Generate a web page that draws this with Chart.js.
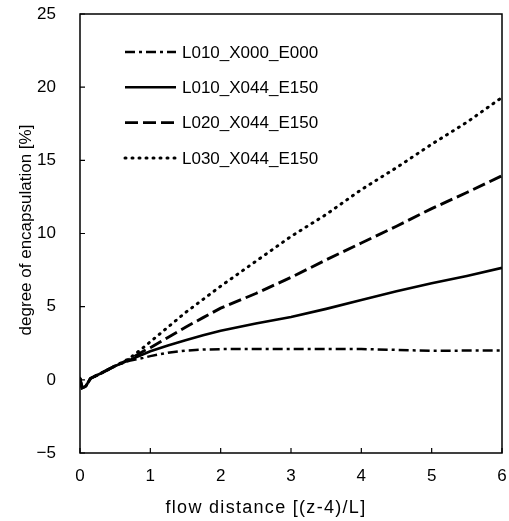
<!DOCTYPE html>
<html>
<head>
<meta charset="utf-8">
<script src="https://cdn.jsdelivr.net/npm/chart.js@4/dist/chart.umd.min.js"></script>
<style>
html,body{margin:0;padding:0;background:#fff;}
#wrap{width:509px;height:521px;position:relative;}
</style>
</head>
<body>
<div id="wrap"><canvas id="c" width="509" height="521"></canvas></div>
<script>
// ---- data ----
const xVals = [0, 0.03, 0.08, 0.15, 0.3, 0.5, 0.7, 0.9, 1.0, 1.25, 1.5, 1.75, 2, 2.5, 3, 3.5, 4, 4.5, 5, 5.5, 6];
const seriesLabels = ['L010_X000_E000', 'L010_X044_E150', 'L020_X044_E150', 'L030_X044_E150'];
const s1 = [0.1, -0.55, -0.45, 0.1, 0.45, 0.95, 1.3, 1.5, 1.62, 1.85, 2.0, 2.07, 2.1, 2.1, 2.1, 2.1, 2.1, 2.05, 1.98, 2.0, 2.0];
const s2 = [0.1, -0.55, -0.45, 0.1, 0.45, 0.95, 1.35, 1.75, 1.95, 2.35, 2.7, 3.05, 3.35, 3.85, 4.3, 4.85, 5.45, 6.05, 6.6, 7.1, 7.65];
const s3 = [0.1, -0.55, -0.45, 0.1, 0.45, 0.95, 1.4, 1.95, 2.2, 2.9, 3.6, 4.25, 4.9, 5.9, 7.0, 8.2, 9.35, 10.5, 11.7, 12.8, 13.95];
const s4 = [0.1, -0.55, -0.45, 0.1, 0.45, 0.95, 1.45, 2.2, 2.6, 3.6, 4.6, 5.5, 6.4, 8.1, 9.8, 11.3, 13.0, 14.5, 16.1, 17.6, 19.3];
const xTicks = [0, 1, 2, 3, 4, 5, 6];
const yTicks = [-5, 0, 5, 10, 15, 20, 25];
const xTitle = 'flow distance [(z-4)/L]';
const yTitle = 'degree of encapsulation [%]';

const pts = arr => arr.map((v, i) => ({x: xVals[i], y: v}));
const FONT = '"Liberation Sans", Arial, Helvetica, sans-serif';

const styles = [
  {borderDash: [10, 4, 3, 4], borderWidth: 2.5, borderCapStyle: 'butt'},
  {borderDash: [], borderWidth: 2.6, borderCapStyle: 'butt'},
  {borderDash: [13, 5], borderWidth: 2.9, borderCapStyle: 'butt'},
  {borderDash: [1, 6], borderWidth: 3, borderCapStyle: 'round'}
];
const allSeries = [s1, s2, s3, s4];

const datasets = allSeries.map((s, i) => Object.assign({
  label: seriesLabels[i],
  data: pts(s),
  borderColor: '#000',
  backgroundColor: '#000',
  pointRadius: 0,
  tension: 0,
  fill: false
}, styles[i]));

const decor = {
  id: 'decor',
  afterDraw(chart) {
    const ctx = chart.ctx;
    const a = chart.chartArea;
    const xs = chart.scales.x, ys = chart.scales.y;
    ctx.save();
    ctx.strokeStyle = '#000';
    ctx.lineWidth = 1.5;
    ctx.setLineDash([]);
    ctx.strokeRect(a.left, a.top, a.right - a.left, a.bottom - a.top);
    ctx.lineWidth = 1.2;
    ctx.beginPath();
    xTicks.forEach(t => {
      const px = xs.getPixelForValue(t);
      ctx.moveTo(px, a.bottom); ctx.lineTo(px, a.bottom - 5);
    });
    yTicks.forEach(t => {
      const py = ys.getPixelForValue(t);
      ctx.moveTo(a.left, py); ctx.lineTo(a.left + 5, py);
    });
    ctx.stroke();
    ctx.fillStyle = '#000';
    ctx.textAlign = 'center';
    ctx.textBaseline = 'middle';
    ctx.font = '18px ' + FONT;
    try { ctx.letterSpacing = '1.3px'; } catch (e) {}
    ctx.fillText(xTitle, 266, 508);
    try { ctx.letterSpacing = '0px'; } catch (e) {}
    ctx.save();
    ctx.translate(26, 230);
    ctx.rotate(-Math.PI / 2);
    ctx.font = '17px ' + FONT;
    ctx.fillText(yTitle, 0, 0);
    ctx.restore();
    ctx.font = '17px ' + FONT;
    ctx.textAlign = 'left';
    chart.data.datasets.forEach((ds, i) => {
      const y = 52 + i * 35.3;
      ctx.save();
      ctx.strokeStyle = ds.borderColor;
      ctx.lineWidth = ds.borderWidth;
      ctx.lineCap = ds.borderCapStyle || 'butt';
      ctx.setLineDash(ds.borderDash || []);
      ctx.beginPath();
      ctx.moveTo(125, y);
      ctx.lineTo(176, y);
      ctx.stroke();
      ctx.restore();
      ctx.fillText(ds.label, 182, y + 1);
    });
    ctx.restore();
  }
};

const pad = {left: 0, top: 14, right: 7, bottom: 0};
const chart = new Chart(document.getElementById('c'), {
  type: 'line',
  data: {datasets},
  options: {
    responsive: false,
    animation: false,
    events: [],
    layout: {padding: pad},
    plugins: {legend: {display: false}, tooltip: {enabled: false}},
    scales: {
      x: {
        type: 'linear', min: 0, max: 6,
        grid: {display: false, drawTicks: true, tickLength: 11},
        border: {display: false},
        afterFit: s => { s.height = 68; },
        afterBuildTicks: s => { s.ticks = xTicks.map(v => ({value: v})); },
        ticks: {color: '#000', padding: 2, font: {size: 17, family: FONT}, maxRotation: 0}
      },
      y: {
        type: 'linear', min: -5, max: 25,
        grid: {display: false, drawTicks: true, tickLength: 22},
        border: {display: false},
        afterFit: s => { s.width = 80; },
        afterBuildTicks: s => { s.ticks = yTicks.map(v => ({value: v})); },
        ticks: {color: '#000', padding: 2, font: {size: 17, family: FONT},
          callback: v => String(v).replace('-', '\u2212')}
      }
    }
  },
  plugins: [decor]
});
// nudge the layout padding so the plot frame lands where the reference has it
const target = {left: 80, top: 14, right: 502, bottom: 453};
for (let k = 0; k < 4; k++) {
  const a = chart.chartArea;
  const dT = target.top - a.top, dR = a.right - target.right, dB = a.bottom - target.bottom, dL = target.left - a.left;
  if (Math.abs(dT) < 0.5 && Math.abs(dR) < 0.5 && Math.abs(dB) < 0.5 && Math.abs(dL) < 0.5) break;
  pad.top += dT; pad.right += dR; pad.bottom += dB; pad.left += dL;
  chart.update();
}
</script>
</body>
</html>
